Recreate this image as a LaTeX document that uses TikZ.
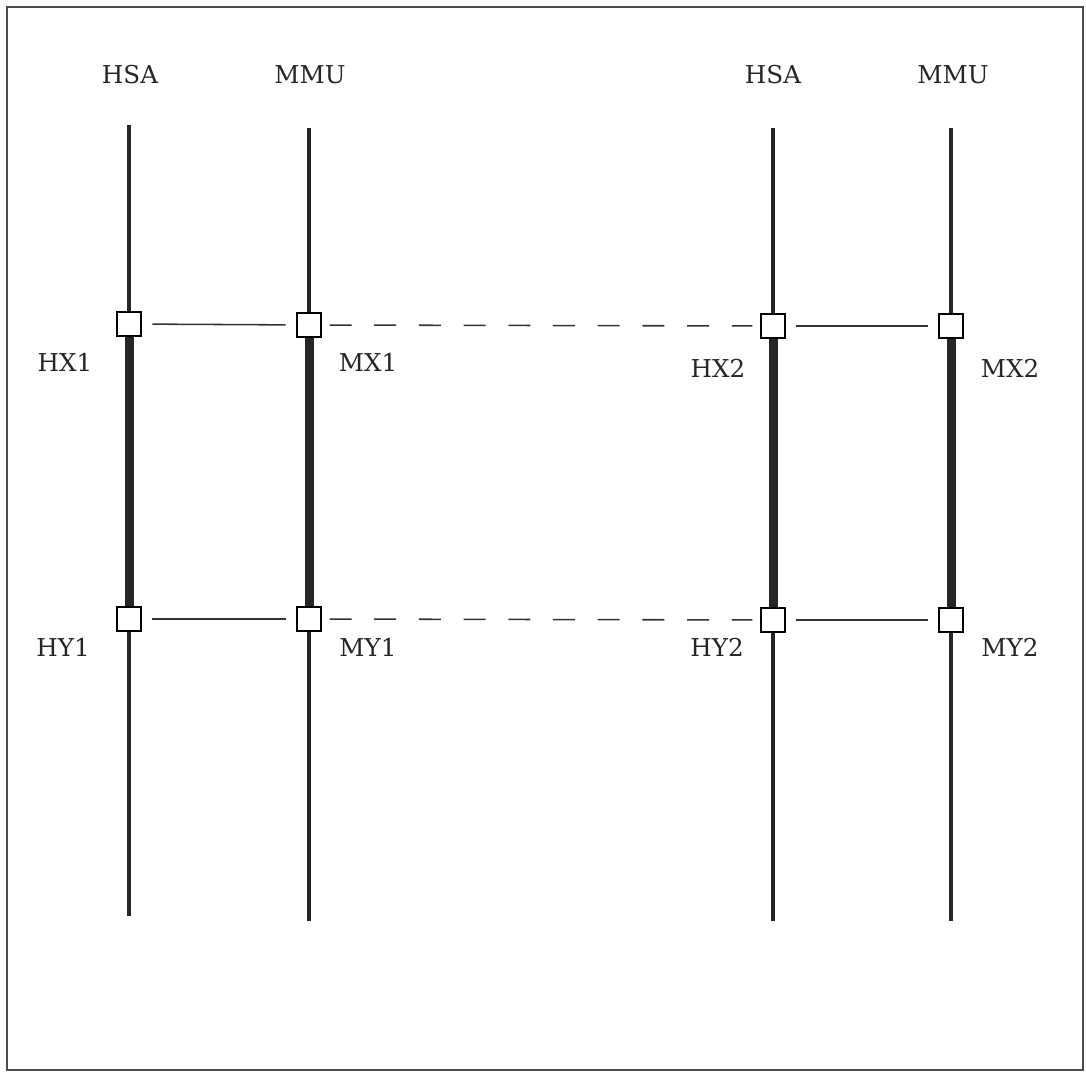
\documentclass[tikz,border=0pt]{standalone}
\usepackage{fontspec}
\setmainfont{DejaVu Serif}
\usetikzlibrary{positioning}

\begin{document}
\begin{tikzpicture}[
  x=0.025cm, y=-0.025cm,
  port/.style={rectangle, draw=black, fill=white, line width=1.3pt, minimum size=0.58cm, inner sep=0pt},
  bus/.style={line width=2.8pt, black!85},
  busthick/.style={line width=6.4pt, black!85},
  link/.style={line width=1.1pt, black!80, shorten >=0.27cm, shorten <=0.27cm},
  linkdash/.style={line width=1.1pt, black!80, dash pattern=on 0.55cm off 0.567cm, shorten >=0.2cm, shorten <=0.2cm},
  lbl/.style={font=\fontsize{17.5}{20}\selectfont, text=black!85},
]
  \useasboundingbox (0,0) rectangle (1086,1073);
  \draw[line width=1pt, black!70] (7,7) rectangle (1083,1070);

  % Bus titles
  \node[lbl] (hsaA) at (130, 75) {HSA};
  \node[lbl] (mmuA) at (310, 75) {MMU};
  \node[lbl] (hsaB) at (773, 75) {HSA};
  \node[lbl] (mmuB) at (953, 75) {MMU};

  % Bus end points
  \coordinate (hsaAtop) at (129, 125);
  \coordinate (mmuAtop) at (309, 128);
  \coordinate (hsaBtop) at (773, 128);
  \coordinate (mmuBtop) at (951, 128);
  \coordinate (hsaAbot) at (129, 916);
  \coordinate (mmuAbot) at (309, 921);
  \coordinate (hsaBbot) at (773, 921);
  \coordinate (mmuBbot) at (951, 921);

  % Ports
  \node[port] (hx1) at (129, 324) {};
  \node[port] (mx1) at (309, 325) {};
  \node[port] (hx2) at (773, 326) {};
  \node[port] (mx2) at (951, 326) {};
  \node[port] (hy1) at (129, 619) {};
  \node[port] (my1) at (309, 619) {};
  \node[port] (hy2) at (773, 620) {};
  \node[port] (my2) at (951, 620) {};

  % Port labels
  \node[lbl] (lhx1) at (65, 362) {HX1};
  \node[lbl] (lmx1) at (368, 362) {MX1};
  \node[lbl] (lhx2) at (718, 368) {HX2};
  \node[lbl] (lmx2) at (1010, 368) {MX2};
  \node[lbl] (lhy1) at (63, 647) {HY1};
  \node[lbl] (lmy1) at (368, 647) {MY1};
  \node[lbl] (lhy2) at (717, 647) {HY2};
  \node[lbl] (lmy2) at (1010, 647) {MY2};

  % Buses
  \draw[bus] (hsaAtop) -- (hx1);
  \draw[busthick] (hx1) -- (hy1);
  \draw[bus] (hy1) -- (hsaAbot);
  \draw[bus] (mmuAtop) -- (mx1);
  \draw[busthick] (mx1) -- (my1);
  \draw[bus] (my1) -- (mmuAbot);
  \draw[bus] (hsaBtop) -- (hx2);
  \draw[busthick] (hx2) -- (hy2);
  \draw[bus] (hy2) -- (hsaBbot);
  \draw[bus] (mmuBtop) -- (mx2);
  \draw[busthick] (mx2) -- (my2);
  \draw[bus] (my2) -- (mmuBbot);

  % Links
  \draw[link] (hx1) -- (mx1);
  \draw[linkdash] (mx1) -- (hx2);
  \draw[link] (hx2) -- (mx2);
  \draw[link] (hy1) -- (my1);
  \draw[linkdash] (my1) -- (hy2);
  \draw[link] (hy2) -- (my2);
\end{tikzpicture}
\end{document}
